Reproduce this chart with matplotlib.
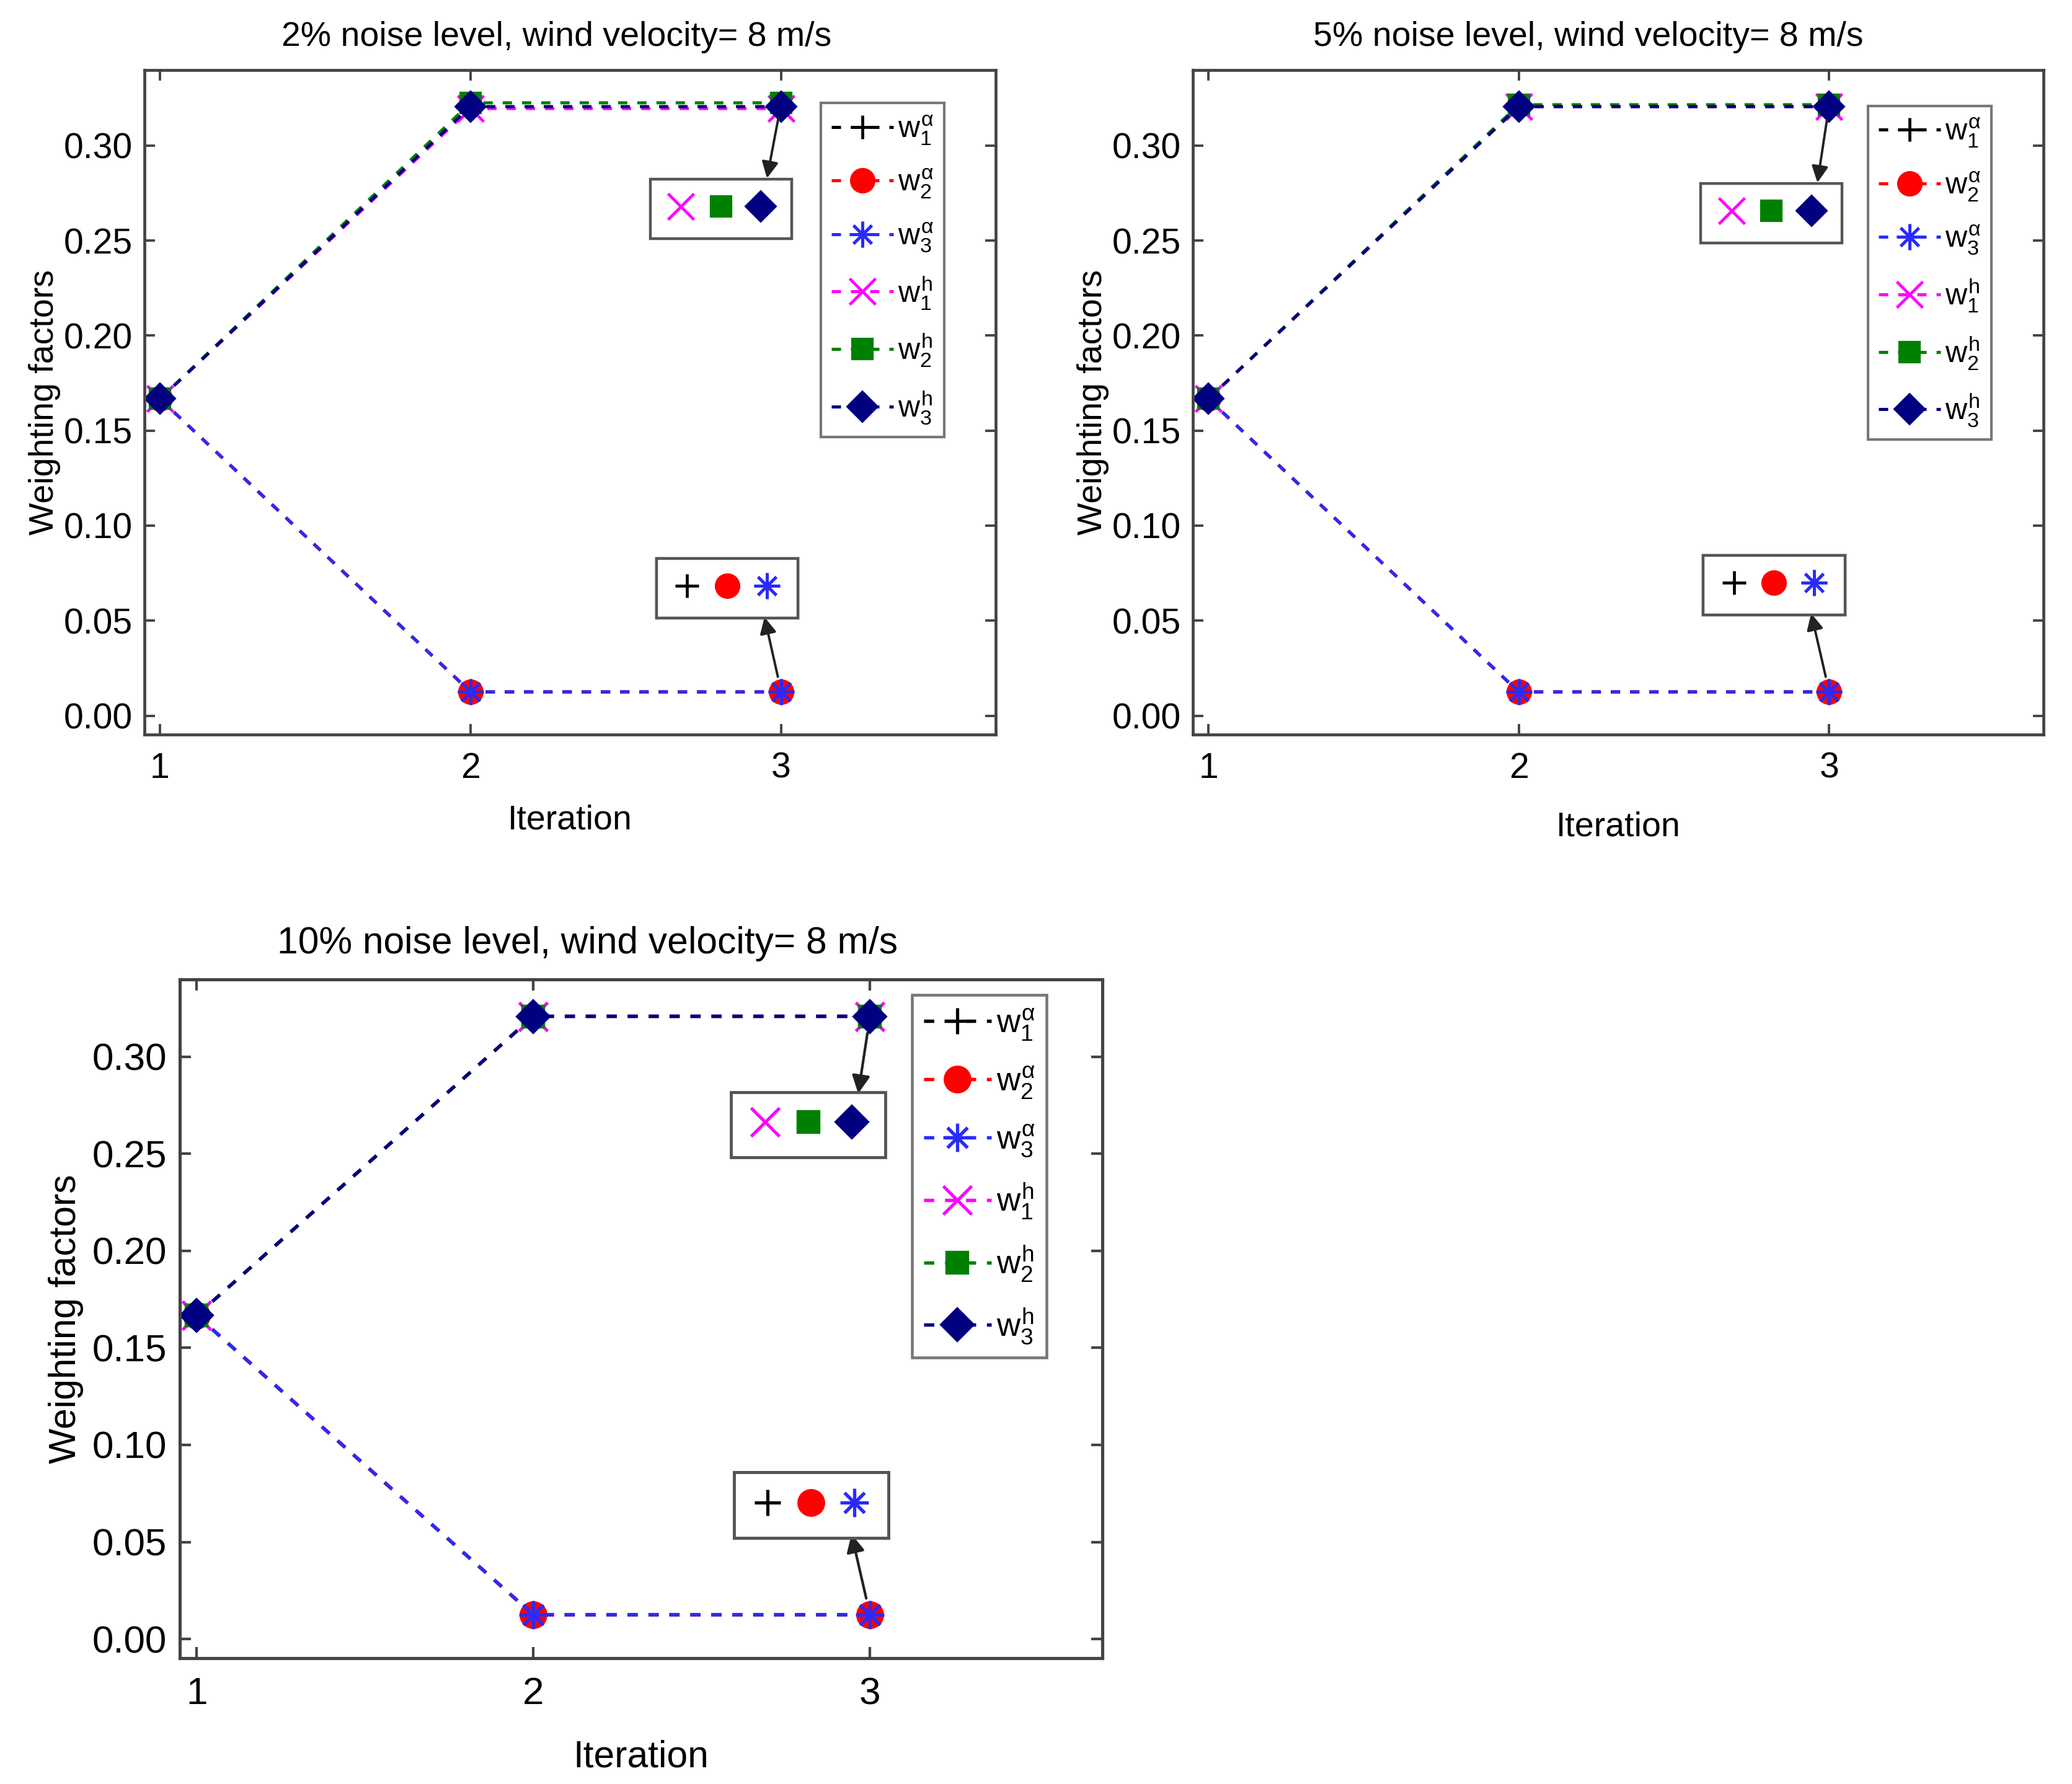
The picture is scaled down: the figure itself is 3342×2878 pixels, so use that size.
import matplotlib
matplotlib.use("Agg")
import matplotlib.pyplot as plt
from matplotlib.lines import Line2D

# Fuentes tipo Arial
plt.rcParams['font.family'] = ['Liberation Sans', 'DejaVu Sans']
plt.rcParams['mathtext.fontset'] = 'custom'
plt.rcParams['mathtext.rm'] = 'Liberation Sans'
plt.rcParams['mathtext.it'] = 'Liberation Sans'
plt.rcParams['mathtext.bf'] = 'Liberation Sans:bold'

# Datos
iteracion = [1, 2, 3]

titulos = [
    "2% noise level, wind velocity= 8 m/s",
    "5% noise level, wind velocity= 8 m/s",
    "10% noise level, wind velocity= 8 m/s",
]

etiquetas = [r'$w_1^{\alpha}$', r'$w_2^{\alpha}$', r'$w_3^{\alpha}$',
             r'$w_1^{h}$', r'$w_2^{h}$', r'$w_3^{h}$']

# 2% de ruido
p1_wa1 = [0.1667, 0.0125, 0.0125]
p1_wa2 = [0.1667, 0.0125, 0.0125]
p1_wa3 = [0.1667, 0.0125, 0.0125]
p1_wh1 = [0.1667, 0.3195, 0.3195]
p1_wh2 = [0.1667, 0.3225, 0.3225]
p1_wh3 = [0.1667, 0.3205, 0.3205]

# 5% de ruido
p2_wa1 = [0.1667, 0.0125, 0.0125]
p2_wa2 = [0.1667, 0.0125, 0.0125]
p2_wa3 = [0.1667, 0.0125, 0.0125]
p2_wh1 = [0.1667, 0.3205, 0.3205]
p2_wh2 = [0.1667, 0.3215, 0.3215]
p2_wh3 = [0.1667, 0.3205, 0.3205]

# 10% de ruido
p3_wa1 = [0.1667, 0.0125, 0.0125]
p3_wa2 = [0.1667, 0.0125, 0.0125]
p3_wa3 = [0.1667, 0.0125, 0.0125]
p3_wh1 = [0.1667, 0.3208, 0.3208]
p3_wh2 = [0.1667, 0.3208, 0.3208]
p3_wh3 = [0.1667, 0.3208, 0.3208]

paneles = [
    [p1_wa1, p1_wa2, p1_wa3, p1_wh1, p1_wh2, p1_wh3],
    [p2_wa1, p2_wa2, p2_wa3, p2_wh1, p2_wh2, p2_wh3],
    [p3_wa1, p3_wa2, p3_wa3, p3_wh1, p3_wh2, p3_wh3],
]

# Estilos
colores = ['black', '#ff0000', '#2a2aff', '#ff00ff', '#008000', '#000080']
marcadores = ['+', 'o', (8, 2, 0), 'x', 's', 'D']
tamanos = [14, 14, 15, 15, 12, 12.5]
gris = '#444444'

# Posiciones de los ejes en la figura
posiciones = [
    [0.0697, 0.5883, 0.4108, 0.3725],
    [0.5757, 0.5883, 0.4105, 0.3725],
    [0.0868, 0.0705, 0.4452, 0.3805],
]
escalas = [1.0, 1.0, 1.09]
titulo_x = [0.484, 0.465, 0.442]
leyenda_pos = [(0.795, 0.950), (0.794, 0.946), (0.794, 0.977)]
caja_arriba = [(2.806, 0.2668), (2.814, 0.2645), (2.817, 0.265)]
caja_abajo = [(2.826, 0.0669), (2.822, 0.0688), (2.825, 0.069)]
pad_xlabel = [11, 15, 16]
pad_ylabel = [1.5, 1.5, 5]

fig = plt.figure(figsize=(16.71, 14.39), dpi=200)

for k in range(3):
    ax = fig.add_axes(posiciones[k])
    s = escalas[k]
    series = paneles[k]

    handles = []
    for i in range(6):
        relleno = marcadores[i] in ('o', 's', 'D')
        ln, = ax.plot(iteracion, series[i], color=colores[i], lw=1.8 * s,
                      linestyle=(0, (3, 3.2)), marker=marcadores[i],
                      markersize=tamanos[i] * s,
                      markeredgewidth=(0.8 if relleno else 1.7) * s,
                      markerfacecolor=colores[i], markeredgecolor=colores[i])
        handles.append(ln)

    ax.set_xlim(0.95, 3.69)
    ax.set_ylim(-0.0099, 0.3398)
    ax.set_xticks([1, 2, 3])
    ax.set_yticks([0.0, 0.05, 0.10, 0.15, 0.20, 0.25, 0.30])
    ax.yaxis.set_major_formatter(plt.FormatStrFormatter('%.2f'))
    ax.tick_params(direction='in', top=True, right=True, length=6 * s,
                   width=1.4 * s, colors=gris, labelcolor='black',
                   labelsize=20.5 * s)
    ax.tick_params(axis='x', pad=10 * s)
    ax.tick_params(axis='y', pad=7 * s)
    for sp in ax.spines.values():
        sp.set_linewidth(1.7 * s)
        sp.set_color(gris)

    ax.set_title(titulos[k], fontsize=20 * s, pad=14 * s, x=titulo_x[k])
    ax.set_xlabel("Iteration", fontsize=20 * s, labelpad=pad_xlabel[k])
    ax.set_ylabel("Weighting factors", fontsize=20 * s, labelpad=pad_ylabel[k])

    # Leyenda principal
    leg = ax.legend(handles, etiquetas, loc='upper left',
                    bbox_to_anchor=leyenda_pos[k], borderaxespad=0,
                    fontsize=17.5 * s, fancybox=False, edgecolor='#777777',
                    handlelength=2.05, handletextpad=0.15, labelspacing=0.68,
                    borderpad=0.35, framealpha=1)
    leg.get_frame().set_linewidth(1.5 * s)
    ax.add_artist(leg)

    # Cajas con los marcadores superpuestos
    for grupo, centro in ((handles[3:], caja_arriba[k]), (handles[:3], caja_abajo[k])):
        simbolos = [Line2D([], [], linestyle='none', marker=h.get_marker(),
                           markersize=h.get_markersize(),
                           markeredgewidth=h.get_markeredgewidth(),
                           color=h.get_color()) for h in grupo]
        caja = ax.legend(simbolos, ['', '', ''], ncol=3, loc='center',
                         bbox_to_anchor=centro, bbox_transform=ax.transData,
                         fontsize=16 * s, fancybox=False, edgecolor='#555555',
                         handlelength=1.0, handletextpad=0.0,
                         columnspacing=0.45, borderpad=0.62, framealpha=1)
        caja.get_frame().set_linewidth(1.6 * s)
        ax.add_artist(caja)

    # Flechas desde el ultimo punto hacia las cajas
    y_arriba = max(series[3][2], series[4][2], series[5][2])
    y_abajo = series[0][2]
    flecha = dict(arrowstyle='-|>', color='#222222', lw=1.4 * s,
                  shrinkA=9 * s, shrinkB=0, mutation_scale=20 * s)
    ax.annotate('', xy=(caja_arriba[k][0] + 0.148, caja_arriba[k][1] + 0.016),
                xytext=(3, y_arriba), arrowprops=flecha)
    ax.annotate('', xy=(caja_abajo[k][0] + 0.12, caja_abajo[k][1] - 0.015),
                xytext=(3, y_abajo), arrowprops=flecha)

fig.savefig("out.png", dpi=200)
